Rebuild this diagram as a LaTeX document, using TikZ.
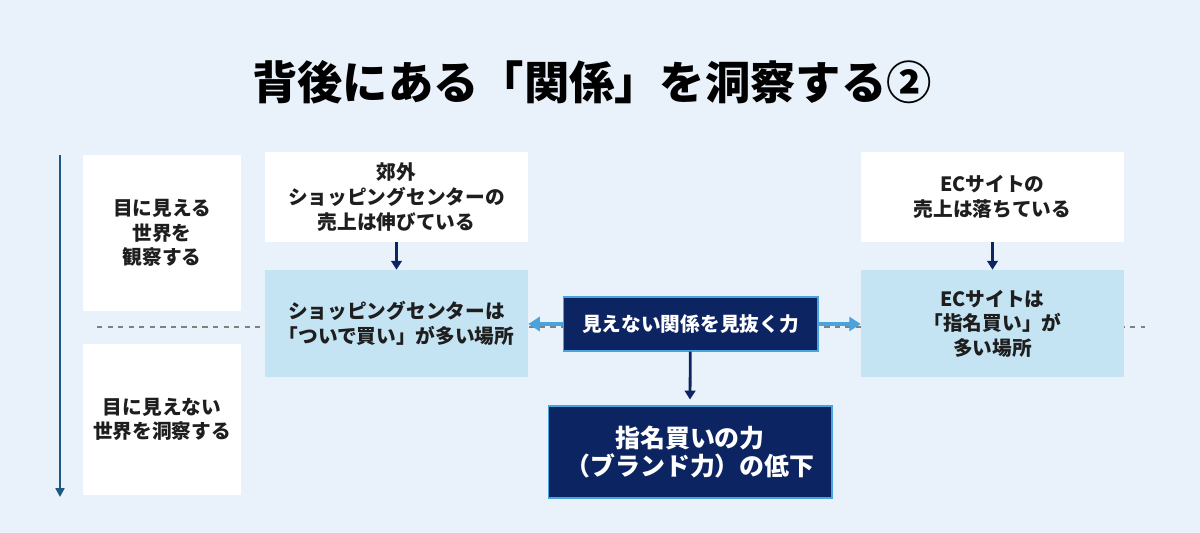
\documentclass[tikz,border=0pt]{standalone}
\usepackage{fontspec}
\setmainfont{Noto Sans CJK JP}
\usepackage{tikz}
\usetikzlibrary{positioning, arrows.meta, shapes, calc}

\definecolor{pagebg}{RGB}{233,241,250}
\definecolor{paleblue}{RGB}{197,228,243}
\definecolor{navyblue}{RGB}{13,36,99}
\definecolor{skyarrow}{RGB}{74,163,220}
\definecolor{axisblue}{RGB}{30,88,128}
\definecolor{inktext}{RGB}{30,30,30}

\begin{document}
\begin{tikzpicture}[
        x=0.02cm, y=-0.02cm,
        whitebox/.style={rectangle, fill=white, align=center, text=inktext, font=\fontsize{11.2}{14}\selectfont\bfseries},
        factbox/.style={whitebox, minimum width=5.26cm, minimum height=1.8cm},
        placebox/.style={whitebox, fill=paleblue, minimum width=5.26cm, minimum height=2.14cm},
        navybox/.style={rectangle, draw=skyarrow, line width=0.6pt, fill=navyblue, text=white, align=center},
        darkarrow/.style={-{Triangle[length=5pt, width=6pt]}, draw=navyblue, line width=1.6pt},
        skyline/.style={-{Triangle[length=6.5pt, width=8pt]}, draw=skyarrow, line width=2pt}
    ]
    % Page
    \useasboundingbox (0,0) rectangle (1200,532);
    \fill[pagebg] (-5,-5) rectangle (1205,537);

    % Title
    \node[font=\fontsize{25.8}{30}\selectfont\bfseries, text=black] (title) at (592,82) {背後にある「関係」を洞察する②};

    % Axis and divider
    \coordinate (axisTop) at (60,155);
    \coordinate (axisEnd) at (60,497);
    \draw[-{Triangle[length=5pt, width=5pt]}, axisblue, line width=1.4pt] (axisTop) -- (axisEnd);
    \coordinate (dashL) at (97,327);
    \coordinate (dashR) at (1145,327);
    \draw[dashed, gray, line width=0.8pt] (dashL) -- (dashR);

    % Left labels
    \node[whitebox, minimum width=3.16cm, minimum height=3.12cm] (seen) at (162,233) {目に見える\\世界を\\観察する};
    \node[whitebox, minimum width=3.16cm, minimum height=3.02cm] (unseen) at (162,419.5) {目に見えない\\世界を洞察する};

    % Shopping center column
    \node[factbox] (salesSC) at (396.5,197) {郊外\\ショッピングセンターの\\売上は伸びている};
    \node[placebox] (placeSC) at (396.5,323.5) {ショッピングセンターは\\「ついで買い」が多い場所};

    % EC column
    \node[factbox] (salesEC) at (992.5,197) {ECサイトの\\売上は落ちている};
    \node[placebox] (placeEC) at (992.5,323.5) {ECサイトは\\「指名買い」が\\多い場所};

    % Center
    \node[navybox, minimum width=5.1cm, minimum height=1.08cm, font=\fontsize{11.2}{14}\selectfont\bfseries] (insight) at (690.5,324) {見えない関係を見抜く力};
    \node[navybox, minimum width=5.68cm, minimum height=1.84cm, font=\fontsize{14.2}{16}\selectfont\bfseries] (brand) at (690,452) {指名買いの力\\（ブランド力）の低下};

    % Arrows
    \draw[darkarrow] (salesSC) -- (placeSC);
    \draw[darkarrow] (salesEC) -- (placeEC);
    \draw[darkarrow] (insight) -- ($(brand.north)+(0,-6)$);
    \draw[skyline] (insight.west) -- (insight.west -| placeSC.east);
    \draw[skyline] (insight.east) -- (insight.east -| placeEC.west);
\end{tikzpicture}
\end{document}
